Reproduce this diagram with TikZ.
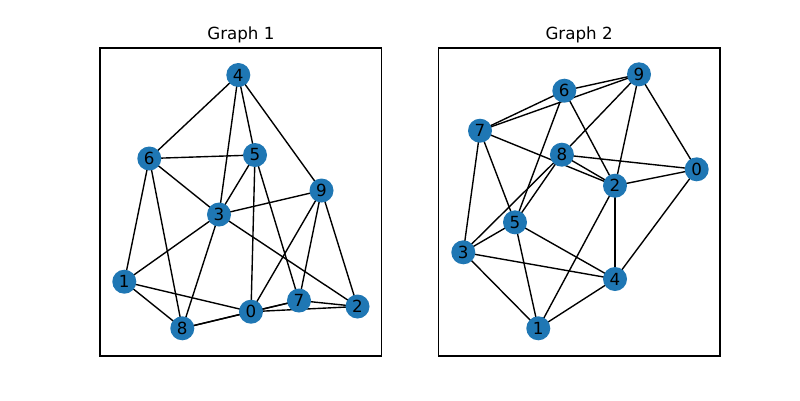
\documentclass[tikz,border=0pt]{standalone}
\usepackage{fontspec}
\setmainfont{DejaVu Sans}
\usetikzlibrary{backgrounds}
\definecolor{nodeblue}{HTML}{1F77B4}
\tikzset{
  gnode/.style={circle, fill=nodeblue, draw=none, minimum size=24pt, inner sep=0pt,
    font=\fontsize{16.7}{20}\selectfont, text=black},
  gedge/.style={draw=black, line width=1.39pt},
  frame/.style={draw=black, line width=1.1pt},
  gtitle/.style={anchor=base, inner sep=0pt, font=\fontsize{16.7}{20}\selectfont}
}
\begin{document}
\begin{tikzpicture}[x=1pt, y=-1pt]
\useasboundingbox (0,0) rectangle (800,400);
% frames
\draw[frame] (100,48) rectangle (381.8,356);
\draw[frame] (438.2,48) rectangle (720,356);
\node[gtitle] (t1) at (240.9,39.5) {Graph 1};
\node[gtitle] (t2) at (579.1,39.5) {Graph 2};
% Graph 1 nodes
\node[gnode] (a4) at (238.3,75) {4};
\node[gnode] (a6) at (149.3,158.5) {6};
\node[gnode] (a5) at (255,155) {5};
\node[gnode] (a9) at (321.5,190.5) {9};
\node[gnode] (a3) at (219,214.5) {3};
\node[gnode] (a1) at (124.3,281.7) {1};
\node[gnode] (a8) at (182.3,328.3) {8};
\node[gnode] (a0) at (251,311.7) {0};
\node[gnode] (a7) at (299,300.5) {7};
\node[gnode] (a2) at (357.5,306.5) {2};
% Graph 2 nodes
\node[gnode] (b9) at (639,74.3) {9};
\node[gnode] (b6) at (564.3,90.7) {6};
\node[gnode] (b7) at (480,130.7) {7};
\node[gnode] (b8) at (561.9,154.7) {8};
\node[gnode] (b0) at (696.7,169.3) {0};
\node[gnode] (b2) at (615,185.7) {2};
\node[gnode] (b5) at (515,222.3) {5};
\node[gnode] (b3) at (463.3,252.3) {3};
\node[gnode] (b4) at (615,279) {4};
\node[gnode] (b1) at (538.3,328.3) {1};
\begin{scope}[on background layer]
\foreach \u/\v in {4/6,4/3,4/5,4/9,6/5,6/3,6/1,6/8,5/3,5/0,5/7,9/3,9/0,9/7,9/2,3/1,3/8,3/2,1/0,1/8,8/0,8/7,0/7,0/2,7/2}
  \draw[gedge] (a\u.center) -- (a\v.center);
\foreach \u/\v in {9/6,9/7,9/8,9/2,9/0,6/7,6/5,6/2,7/2,7/3,7/5,8/0,8/2,8/5,8/3,0/2,0/4,2/4,2/1,5/3,5/4,5/1,3/4,3/1,4/1}
  \draw[gedge] (b\u.center) -- (b\v.center);
\end{scope}
\end{tikzpicture}
\end{document}
